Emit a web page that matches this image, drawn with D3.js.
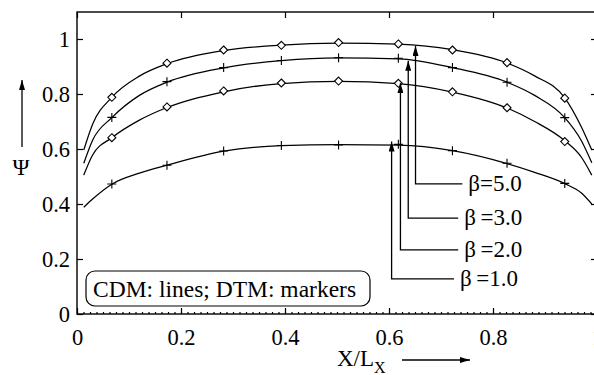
<!DOCTYPE html>
<html>
<head>
<meta charset="utf-8">
<script src="https://cdn.jsdelivr.net/npm/d3@7"></script>
<style>
  body { margin: 0; background: #fff; }
</style>
</head>
<body>
<div id="chart"></div>
<script>
// tick values
const xTicks = [0, 0.2, 0.4, 0.6, 0.8, 1];
const yTicks = [0, 0.2, 0.4, 0.6, 0.8, 1];

// DTM results (markers)
const markerX = [0.067, 0.173, 0.282, 0.393, 0.503, 0.618, 0.722, 0.827, 0.938];
const dtmB5 = [0.788, 0.912, 0.960, 0.977, 0.987, 0.982, 0.960, 0.914, 0.785];
const dtmB3 = [0.715, 0.845, 0.896, 0.922, 0.932, 0.930, 0.896, 0.843, 0.714];
const dtmB2 = [0.641, 0.753, 0.811, 0.840, 0.847, 0.839, 0.808, 0.750, 0.627];
const dtmB1 = [0.473, 0.541, 0.593, 0.613, 0.615, 0.617, 0.594, 0.548, 0.475];

// CDM results (lines)
const lineX = [0.013, 0.03, 0.067, 0.12, 0.173, 0.282, 0.393, 0.503, 0.618, 0.722, 0.827, 0.88, 0.938, 0.97, 0.99];
const cdmB5 = [0.596, 0.69, 0.788, 0.865, 0.91, 0.958, 0.978, 0.985, 0.981, 0.961, 0.913, 0.866, 0.786, 0.68, 0.596];
const cdmB3 = [0.548, 0.632, 0.714, 0.795, 0.843, 0.895, 0.921, 0.931, 0.928, 0.896, 0.843, 0.795, 0.714, 0.63, 0.55];
const cdmB2 = [0.505, 0.578, 0.641, 0.705, 0.751, 0.808, 0.838, 0.846, 0.838, 0.807, 0.749, 0.70, 0.63, 0.57, 0.505];
const cdmB1 = [0.388, 0.418, 0.472, 0.512, 0.541, 0.592, 0.612, 0.616, 0.614, 0.594, 0.547, 0.515, 0.474, 0.44, 0.40];

// beta annotations (data units)
const betaLabels = ["β=5.0", "β\u2009=3.0", "β\u2009=2.0", "β\u2009=1.0"];
const arrowX = [0.651, 0.637, 0.622, 0.605];
const arrowTip = [0.975, 0.921, 0.84, 0.627];
const leaderY = [0.473, 0.349, 0.233, 0.128];
const leaderEnd = [0.741, 0.733, 0.733, 0.725];

const width = 594, height = 375;
const serif = "'Liberation Serif', 'Times New Roman', Times, 'DejaVu Serif', serif";

const x = d3.scaleLinear().domain([0, 1]).range([77, 597]);
const y = d3.scaleLinear().domain([0, 1.1]).range([314, 11.5]);

const svg = d3.select("#chart").append("svg")
  .attr("width", width)
  .attr("height", height)
  .attr("font-family", serif);

const defs = svg.append("defs");
defs.append("marker")
  .attr("id", "head")
  .attr("viewBox", "0 0 10 6")
  .attr("refX", 10).attr("refY", 3)
  .attr("markerWidth", 10).attr("markerHeight", 6)
  .attr("markerUnits", "userSpaceOnUse")
  .attr("orient", "auto")
  .append("path")
  .attr("d", "M0,0L10,3L0,6Z")
  .attr("fill", "#000");

// axes, ticks pointing inward
const fmt = d3.format("");
const axisStyle = g => {
  g.attr("font-family", serif).attr("font-size", 22.5);
  g.select(".domain").remove();
  g.selectAll(".tick line").attr("stroke", "#000").attr("stroke-width", 1.2);
  g.selectAll(".tick text").attr("fill", "#000");
};

svg.append("g")
  .attr("transform", "translate(0,314)")
  .call(d3.axisBottom(x).tickValues(xTicks).tickSize(-6).tickPadding(15).tickFormat(fmt))
  .call(axisStyle);

svg.append("g")
  .attr("transform", "translate(77,0)")
  .call(d3.axisLeft(y).tickValues(yTicks).tickSize(-6).tickPadding(7).tickFormat(fmt))
  .call(axisStyle);

svg.append("g")
  .attr("transform", "translate(0,12)")
  .call(d3.axisTop(x).tickValues(xTicks).tickSize(-6).tickFormat(""))
  .call(axisStyle);

svg.append("g")
  .attr("transform", "translate(597,0)")
  .call(d3.axisRight(y).tickValues(yTicks).tickSize(-6).tickFormat(""))
  .call(axisStyle);

// minor ticks along the bottom
svg.append("g")
  .attr("transform", "translate(0,314)")
  .call(d3.axisBottom(x).tickValues(d3.range(0, 1.0001, 0.0125)).tickSize(-2).tickFormat(""))
  .call(axisStyle);

// frame
svg.append("rect")
  .attr("x", 77).attr("y", 12)
  .attr("width", 520).attr("height", 302)
  .attr("fill", "none")
  .attr("stroke", "#000")
  .attr("stroke-width", 1.4);

// CDM lines
const line = d3.line()
  .x((d, i) => x(lineX[i]))
  .y(d => y(d))
  .curve(d3.curveMonotoneX);

[cdmB5, cdmB3, cdmB2, cdmB1].forEach(s => {
  svg.append("path")
    .attr("d", line(s))
    .attr("fill", "none")
    .attr("stroke", "#000")
    .attr("stroke-width", 1.25);
});

// DTM markers
const diamond = "M0,-4L4,0L0,4L-4,0Z";
const plus = "M-4.5,0H4.5M0,-4.5V4.5";
const dtm = [
  {vals: dtmB5, shape: diamond},
  {vals: dtmB3, shape: plus},
  {vals: dtmB2, shape: diamond},
  {vals: dtmB1, shape: plus}
];
dtm.forEach(s => {
  svg.append("g").selectAll("path")
    .data(s.vals)
    .enter().append("path")
    .attr("transform", (d, i) => "translate(" + x(markerX[i]) + "," + y(d) + ")")
    .attr("d", s.shape)
    .attr("fill", s.shape === diamond ? "#fff" : "none")
    .attr("stroke", "#000")
    .attr("stroke-width", 1.1);
});

// beta leaders with arrows
betaLabels.forEach((lab, i) => {
  svg.append("path")
    .attr("d", "M" + x(leaderEnd[i]) + "," + y(leaderY[i]) +
               "H" + x(arrowX[i]) + "V" + y(arrowTip[i]))
    .attr("fill", "none")
    .attr("stroke", "#000")
    .attr("stroke-width", 1.3)
    .attr("marker-end", "url(#head)");
  svg.append("text")
    .attr("x", x(leaderEnd[i]) + 6)
    .attr("y", y(leaderY[i]) + 7)
    .attr("font-size", 23)
    .text(lab);
});

// legend box
svg.append("rect")
  .attr("x", 86).attr("y", 271)
  .attr("width", 284).attr("height", 35)
  .attr("rx", 9).attr("ry", 9)
  .attr("fill", "#fff")
  .attr("stroke", "#000")
  .attr("stroke-width", 1.2);
svg.append("text")
  .attr("x", 93).attr("y", 297)
  .attr("font-size", 23.5)
  .text("CDM: lines; DTM: markers");

// y label with arrow
svg.append("text")
  .attr("x", 21).attr("y", 175)
  .attr("text-anchor", "middle")
  .attr("font-size", 23)
  .text("Ψ");
svg.append("line")
  .attr("x1", 22).attr("y1", 147)
  .attr("x2", 22).attr("y2", 80)
  .attr("stroke", "#000")
  .attr("stroke-width", 1.3)
  .attr("marker-end", "url(#head)");

// x label with arrow
const xl = svg.append("text")
  .attr("x", 337).attr("y", 366)
  .attr("font-size", 23);
xl.append("tspan").text("X/L");
xl.append("tspan").attr("dy", 7).attr("font-size", 16).text("X");
svg.append("line")
  .attr("x1", 402).attr("y1", 360)
  .attr("x2", 470).attr("y2", 360)
  .attr("stroke", "#000")
  .attr("stroke-width", 1.3)
  .attr("marker-end", "url(#head)");
</script>
</body>
</html>
